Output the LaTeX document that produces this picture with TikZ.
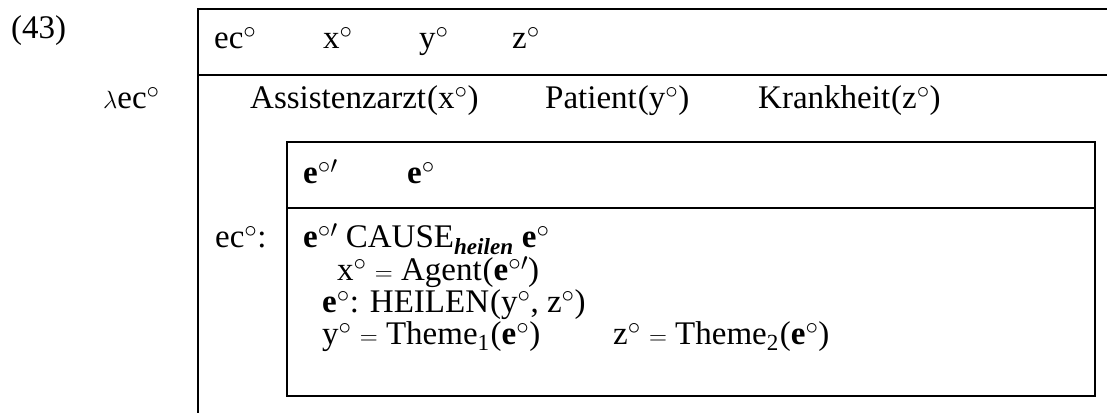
\documentclass[tikz,border=0pt]{standalone}
\usepackage{amsmath}
\usepackage{fontspec}
\setmainfont{Liberation Serif}
\newcommand{\dg}{$^{\circ}$}
\newcommand{\dgp}{$^{\circ\prime}$}
\newcommand{\be}{\textbf{e}}
\begin{document}
\begin{tikzpicture}[x=1pt,y=-1pt,
  txt/.style={anchor=base west,inner sep=0pt,font=\fontsize{33}{32}\selectfont},
  boxline/.style={line width=1.7pt}]
\useasboundingbox (0,0) rectangle (1107,413);
% outer frame
\coordinate (otl) at (198,9);
\coordinate (otr) at (1107,9);
\coordinate (oml) at (198,75);
\coordinate (omr) at (1107,75);
\coordinate (obl) at (198,413);
\draw[boxline] (otr) -- (otl) -- (obl);
\draw[boxline] (oml) -- (omr);
% inner box
\coordinate (itl) at (287,142);
\coordinate (ibr) at (1095,396);
\coordinate (iml) at (287,208);
\coordinate (imr) at (1095,208);
\draw[boxline] (itl) rectangle (ibr);
\draw[boxline] (iml) -- (imr);
% texts
\node[txt] (num) at (11,38) {(43)};
\node[txt] (ec) at (214,48) {ec\dg};
\node[txt] (x) at (323,48) {x\dg};
\node[txt] (y) at (419,48) {y\dg};
\node[txt] (z) at (512,48) {z\dg};
\node[txt] (lam) at (103,108) {$\lambda$ec\dg};
\node[txt] (ass) at (250,108) {Assistenzarzt\kern1pt(x\dg)};
\node[txt] (pat) at (545,108) {Patient\kern1pt(y\dg)};
\node[txt] (kra) at (758,108) {Krankheit\kern1pt(z\dg)};
\node[txt] (e1) at (303,183) {\be\dgp};
\node[txt] (e2) at (407,183) {\be\dg};
\node[txt] (ecc) at (215,247) {ec\dg:};
\node[txt] (body) at (303,247) {\vtop{\baselineskip=32pt\lineskiplimit=-1000pt
  \hbox{\be\dgp{} CAUSE\textsubscript{\textbf{\textit{heilen}}} \be\dg}
  \vskip1pt
  \hbox{\kern34pt x\dg{} $=$ Agent\kern1pt(\be\dgp)}
  \hbox{\kern19pt\be\dg: HEILEN\kern1pt(y\dg, z\dg)}
  \hbox{\kern19pt\makebox[291pt][l]{y\dg{} $=$ Theme\textsubscript{1}\kern1pt(\be\dg)}z\dg{} $=$ Theme\textsubscript{2}\kern1pt(\be\dg)}}};
\end{tikzpicture}
\end{document}
